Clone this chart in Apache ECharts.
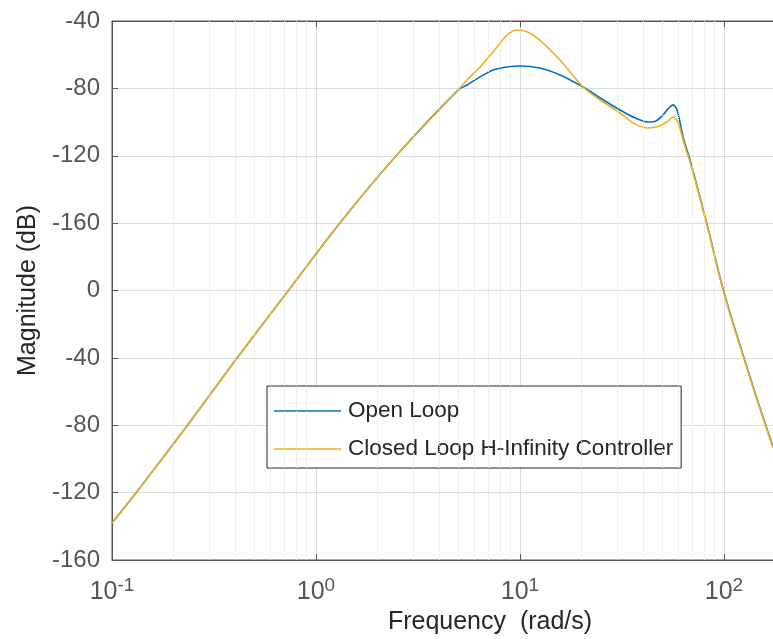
<!DOCTYPE html>
<html>
<head>
<meta charset="utf-8">
<title>Bode magnitude</title>
<script src="https://cdn.jsdelivr.net/npm/echarts@6/dist/echarts.min.js"></script>
<style>
  html, body { margin: 0; padding: 0; background: #fff; }
  #chart { width: 773px; height: 639px; }
</style>
</head>
<body>
<div id="chart"></div>
<script>
// rising part, both curves lie on top of each other
const sharedFreq = [0.1, 0.131, 0.233, 0.41, 0.729, 1.31, 2.49, 4.97]
const sharedMag = [-138, -120.2, -80.4, -40.1, -0.3, 40.1, 80.4, 119.0]

// open loop after the two curves split
const openFreq = [5.5, 6.37, 7.38, 8.63, 10.0, 12.5, 15.7, 20.4, 24.7, 30.9, 36.6, 42.4, 46.4, 50.2, 53.1, 56.2, 58.9, 63.0, 68.1, 76.2, 85.3, 95.5, 107, 119.7, 143.6, 173.8]
const openMag = [122.0, 126.8, 130.9, 132.7, 133.3, 132.1, 128.0, 120.8, 114.3, 107.2, 102.5, 100.0, 100.6, 104.2, 107.8, 110.2, 107.2, 91.2, 77.5, 55.5, 32.4, 8.0, -13.4, -32.4, -62.6, -92.9]

// closed loop H-infinity
const closedFreq = [5.5, 6.37, 7.38, 8.63, 9.66, 10.9, 12.5, 15.7, 20.4, 24.7, 30.9, 36.6, 42.4, 48.5, 53.1, 56.2, 59.5, 63.0, 68.1, 76.2, 85.3, 95.5, 107, 119.7, 143.6, 173.8]
const closedMag = [125.0, 132.7, 141.6, 151.7, 154.7, 153.5, 148.7, 136.8, 120.8, 113.1, 105.4, 98.9, 96.5, 97.7, 100.6, 103.0, 100.0, 89.3, 76.3, 54.9, 31.8, 7.4, -14.0, -33.0, -63.2, -93.5]

// tick labels as printed, bottom to top
const yTickLabels = ['-160', '-120', '-80', '-40', '0', '-160', '-120', '-80', '-40']

const seriesNames = ['Open Loop', 'Closed Loop H-Infinity Controller']

const xMin = 0.1
const xMax = 508

function pairs(fx, fy, gx, gy) {
  const xs = fx.concat(gx)
  const ys = fy.concat(gy)
  return xs.map((x, i) => [x, ys[i]])
}

// dotted minor grid (2..9 per decade)
const minorLines = []
for (let d = 0.1; d < xMax; d *= 10) {
  for (let k = 2; k <= 9; k++) {
    const v = +(k * d).toPrecision(3)
    if (v < xMax) minorLines.push({ xAxis: v })
  }
}

const font = '"Liberation Sans", Arial, sans-serif'

function logLabel(value) {
  const e = Math.round(Math.log10(value))
  return '{b|10}{s|' + e + '}'
}

const chart = echarts.init(document.getElementById('chart'))

chart.setOption({
  animation: false,
  backgroundColor: '#fff',
  grid: {
    left: 112,
    top: 21,
    right: -95,
    bottom: 79,
    containLabel: false,
    outerBoundsMode: 'none',
    show: true,
    borderColor: '#555',
    borderWidth: 1,
    backgroundColor: '#fff',
  },
  legend: {
    orient: 'vertical',
    left: 267,
    top: 386,
    icon: 'rect',
    itemWidth: 67,
    itemHeight: 1.6,
    itemGap: 12,
    padding: [12, 8, 6, 7],
    borderColor: '#262626',
    borderWidth: 1,
    backgroundColor: '#fff',
    textStyle: {
      fontFamily: font,
      fontSize: 22.5,
      lineHeight: 26,
      color: '#262626',
      padding: [0, 0, 0, 2],
    },
    data: seriesNames,
  },
  xAxis: [
    {
      type: 'log',
      logBase: 10,
      min: xMin,
      max: xMax,
      position: 'bottom',
      name: 'Frequency  (rad/s)',
      nameLocation: 'middle',
      nameGap: 50,
      nameTextStyle: { fontFamily: font, fontSize: 25, color: '#262626' },
      axisLine: { show: true, onZero: false, lineStyle: { color: '#555', width: 1 } },
      axisTick: { show: true, inside: true, length: 6, lineStyle: { color: '#555' } },
      axisLabel: {
        margin: 16,
        showMaxLabel: false,
        formatter: logLabel,
        rich: {
          b: { fontFamily: font, fontSize: 25, color: '#555' },
          s: { fontFamily: font, fontSize: 19, color: '#555', padding: [0, 0, 14, 0] },
        },
      },
      splitLine: { show: true, lineStyle: { color: '#dcdcdc', width: 1 } },
    },
    {
      type: 'log',
      logBase: 10,
      min: xMin,
      max: xMax,
      position: 'top',
      axisLine: { show: true, onZero: false, lineStyle: { color: '#555', width: 1 } },
      axisTick: { show: true, inside: true, length: 6, lineStyle: { color: '#555' } },
      axisLabel: { show: false },
      splitLine: { show: false },
    },
  ],
  yAxis: {
    type: 'value',
    min: -160,
    max: 160,
    interval: 40,
    name: 'Magnitude (dB)',
    nameLocation: 'middle',
    nameGap: 70,
    nameTextStyle: { fontFamily: font, fontSize: 25, color: '#262626' },
    axisLine: { show: true, lineStyle: { color: '#555', width: 1 } },
    axisTick: { show: true, inside: true, length: 6, lineStyle: { color: '#555' } },
    axisLabel: {
      margin: 12,
      fontFamily: font,
      fontSize: 24,
      color: '#555',
      formatter: v => yTickLabels[Math.round((v + 160) / 40)],
    },
    splitLine: { show: true, lineStyle: { color: '#dcdcdc', width: 1 } },
  },
  series: [
    {
      name: 'minor-grid',
      type: 'line',
      data: [],
      z: 1,
      silent: true,
      markLine: {
        silent: true,
        symbol: ['none', 'none'],
        label: { show: false },
        lineStyle: { color: '#e2e2e2', type: 'dotted', width: 1 },
        data: minorLines,
      },
    },
    {
      name: seriesNames[0],
      type: 'line',
      smooth: 0.3,
      symbol: 'none',
      lineStyle: { color: '#0072BD', width: 1.6 },
      itemStyle: { color: '#0072BD' },
      data: pairs(sharedFreq, sharedMag, openFreq, openMag),
    },
    {
      name: seriesNames[1],
      type: 'line',
      smooth: 0.3,
      symbol: 'none',
      lineStyle: { color: '#EDB120', width: 1.6 },
      itemStyle: { color: '#EDB120' },
      data: pairs(sharedFreq, sharedMag, closedFreq, closedMag),
    },
  ],
})
</script>
</body>
</html>
